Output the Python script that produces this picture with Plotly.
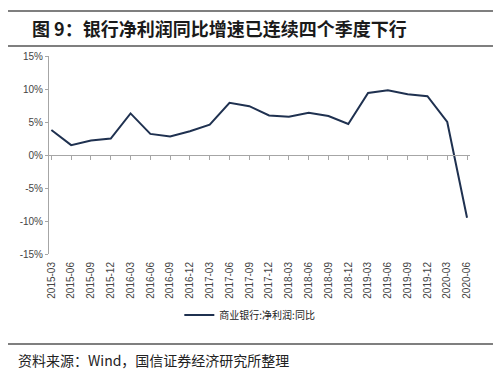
import plotly.graph_objects as go

categories = ["2015-03","2015-06","2015-09","2015-12","2016-03","2016-06","2016-09","2016-12",
              "2017-03","2017-06","2017-09","2017-12","2018-03","2018-06","2018-09","2018-12",
              "2019-03","2019-06","2019-09","2019-12","2020-03","2020-06"]
values = [3.8, 1.5, 2.2, 2.5, 6.3, 3.2, 2.8, 3.6, 4.6, 7.9, 7.4, 6.0, 5.8, 6.4, 5.9, 4.7,
          9.4, 9.8, 9.2, 8.9, 5.0, -9.5]
y_ticks = [-15, -10, -5, 0, 5, 10, 15]
y_tick_labels = ["-15%", "-10%", "-5%", "0%", "5%", "10%", "15%"]
series_name = "商业银行:净利润:同比"
title_text = "图 9：银行净利润同比增速已连续四个季度下行"
source_text = "资料来源：Wind，国信证券经济研究所整理"

LINE = "#1f3150"
LATIN = "'Liberation Sans', Arial, sans-serif"
CJK = "'Noto Sans CJK SC', sans-serif"
xs = list(range(len(categories)))

fig = go.Figure()
fig.add_trace(go.Scatter(x=xs, y=values, mode="lines", name=series_name,
                         line=dict(color=LINE, width=2), xaxis="x2", yaxis="y"))
fig.add_trace(go.Scatter(x=xs, y=values, mode="lines", showlegend=False, hoverinfo="skip",
                         line=dict(color="rgba(0,0,0,0)", width=0), xaxis="x", yaxis="y"))

xr = [-0.12, 21.15]
fig.update_layout(
    width=500, height=374,
    margin=dict(l=49, r=30, t=56, b=120, pad=0, autoexpand=False),
    paper_bgcolor="white", plot_bgcolor="white",
    font=dict(family=LATIN, color="#333333", size=10),
    showlegend=True,
    legend=dict(orientation="h", x=0.477, xanchor="center", y=-0.308, yanchor="middle",
                font=dict(family=CJK, size=10, color="#222222"),
                bgcolor="rgba(0,0,0,0)"),
    xaxis=dict(range=xr, tickmode="array", tickvals=xs, ticktext=categories,
               tickangle=-90, showline=False, ticks="", showgrid=False, zeroline=False,
               ticklabelstandoff=5,
               automargin=False, tickfont=dict(family=LATIN, size=10, color="#444444")),
    xaxis2=dict(range=xr, overlaying="x", anchor="free", position=0.5, side="bottom",
                showline=True, linecolor="#a6a6a6", linewidth=1, ticks="outside",
                ticklen=4, tickcolor="#a6a6a6", tickvals=xs, showticklabels=False,
                showgrid=False, zeroline=False, automargin=False),
    yaxis=dict(range=[-15, 15], tickmode="array", tickvals=y_ticks, ticktext=y_tick_labels,
               showline=True, linecolor="#a6a6a6", linewidth=1, ticks="outside", ticklen=3,
               tickcolor="#a6a6a6", showgrid=False, zeroline=False, automargin=False,
               tickfont=dict(family=LATIN, size=10, color="#444444")),
)

# decorative rules (paper coords)
for yp in [1.227, 1.0505, -0.4545]:
    fig.add_shape(type="line", xref="paper", yref="paper", x0=-0.0974, x1=1.0546,
                  y0=yp, y1=yp, line=dict(color="#555555", width=1.5))

fig.add_annotation(text="<b>" + title_text + "</b>", xref="paper", yref="paper",
                   x=-0.045, y=1.14, xanchor="left", yanchor="middle", showarrow=False,
                   font=dict(family=CJK, size=18, color="#1a1a1a"))
fig.add_annotation(text=source_text, xref="paper", yref="paper",
                   x=-0.078, y=-0.535, xanchor="left", yanchor="middle", showarrow=False,
                   font=dict(family=CJK, size=14, color="#222222"))

fig.write_html("out.html", config={"displayModeBar": False},
               post_script="document.body.style.margin='0px';document.body.style.overflow='hidden';")
